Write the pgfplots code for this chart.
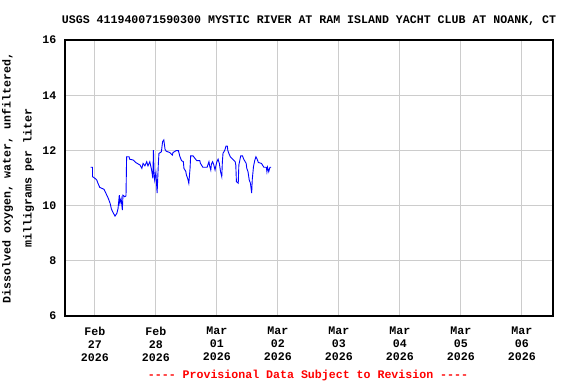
\documentclass[border=0pt]{standalone}
\usepackage{pgfplots}
\pgfplotsset{compat=1.18}
\usepackage{fontspec}
\setmainfont{Liberation Mono}[Ligatures=TeXOff]
\definecolor{gridgray}{RGB}{204,204,204}
\newcommand{\cf}{\fontsize{11.6bp}{13.3bp}\selectfont\bfseries}
\begin{document}
\begin{tikzpicture}[x=1bp,y=1bp]
\useasboundingbox (0,0) rectangle (576,384);
\begin{axis}[
  at={(65bp,68bp)}, anchor=south west,
  scale only axis, width=488bp, height=276bp,
  xmin=-0.49, xmax=7.51, ymin=6, ymax=16,
  xtick={0,1,2,3,4,5,6,7},
  xticklabels={{Feb\\27\\2026},{Feb\\28\\2026},{Mar\\01\\2026},{Mar\\02\\2026},{Mar\\03\\2026},{Mar\\04\\2026},{Mar\\05\\2026},{Mar\\06\\2026}},
  ytick={6,8,10,12,14,16},
  grid=major,
  grid style={gridgray, line width=0.8bp},
  major tick length=0pt,
  axis line style={black, line width=1.3bp},
  /pgf/number format/assume math mode=true,
  xticklabel style={font=\cf, align=center, anchor=north, inner sep=0pt, yshift=-10.5bp},
  yticklabel style={font=\cf, anchor=east, inner sep=0pt, xshift=-8.5bp},
  clip=true,
]
\addplot[blue, line width=0.9bp] coordinates {
(-0.07,11.39) (-0.04,11.39) (-0.04,11.05) (0.00,10.99) (0.03,10.93) (0.05,10.81)
(0.08,10.66) (0.15,10.59) (0.18,10.45) (0.22,10.26) (0.25,10.08) (0.27,9.88)
(0.30,9.74) (0.33,9.62) (0.36,9.72) (0.38,9.90) (0.40,10.38) (0.41,10.08)
(0.43,10.26) (0.45,9.84) (0.46,10.38) (0.49,10.32) (0.51,10.35) (0.52,11.77)
(0.56,11.77) (0.57,11.68) (0.63,11.65) (0.67,11.56) (0.74,11.47) (0.77,11.35)
(0.79,11.53) (0.82,11.44) (0.85,11.59) (0.87,11.44) (0.90,11.59) (0.93,11.29)
(0.95,10.99) (0.96,12.01) (0.97,11.20) (0.98,10.93) (1.00,11.20) (1.02,10.45)
(1.04,11.50) (1.05,11.89) (1.09,11.95) (1.11,12.32) (1.13,12.38) (1.15,12.04)
(1.17,11.97) (1.23,11.92) (1.27,11.83) (1.28,11.92) (1.33,11.99) (1.37,11.99)
(1.39,11.80) (1.42,11.63) (1.45,11.59) (1.46,11.35) (1.49,11.24) (1.50,11.11)
(1.52,10.99) (1.54,10.81) (1.56,11.35) (1.57,11.80) (1.61,11.80) (1.64,11.71)
(1.67,11.63) (1.72,11.63) (1.73,11.53) (1.77,11.39) (1.84,11.39) (1.86,11.53)
(1.87,11.59) (1.88,11.45) (1.90,11.29) (1.91,11.50) (1.93,11.59) (1.95,11.47)
(1.97,11.29) (1.98,11.41) (2.00,11.59) (2.02,11.68) (2.04,11.53) (2.06,11.23)
(2.08,11.05) (2.09,11.59) (2.10,11.89) (2.13,12.01) (2.15,12.16) (2.17,12.16)
(2.18,11.99) (2.20,11.87) (2.22,11.77) (2.26,11.68) (2.30,11.59) (2.31,11.47)
(2.32,10.87) (2.35,10.81) (2.36,11.47) (2.39,11.80) (2.42,11.80) (2.44,11.68)
(2.48,11.53) (2.49,11.35) (2.51,11.23) (2.53,10.93) (2.55,10.81) (2.57,10.45)
(2.58,10.95) (2.60,11.41) (2.62,11.63) (2.64,11.77) (2.66,11.68) (2.68,11.56)
(2.73,11.53) (2.77,11.39) (2.81,11.39) (2.82,11.23) (2.83,11.39) (2.85,11.23)
(2.87,11.39) (2.89,11.39)
};
\end{axis}
\node[anchor=base, inner sep=0pt, font=\cf] at (309,361) {USGS 411940071590300 MYSTIC RIVER AT RAM ISLAND YACHT CLUB AT NOANK, CT};
\node[anchor=base, inner sep=0pt, rotate=90, font=\cf] at (10.5,206) {Dissolved oxygen, water, unfiltered,};
\node[anchor=base, inner sep=0pt, rotate=90, font=\cf] at (31.5,206) {milligrams per liter};
\node[anchor=base, inner sep=0pt, font=\cf, text=red] at (308,5.5) {---- Provisional Data Subject to Revision ----};
\end{tikzpicture}
\end{document}
